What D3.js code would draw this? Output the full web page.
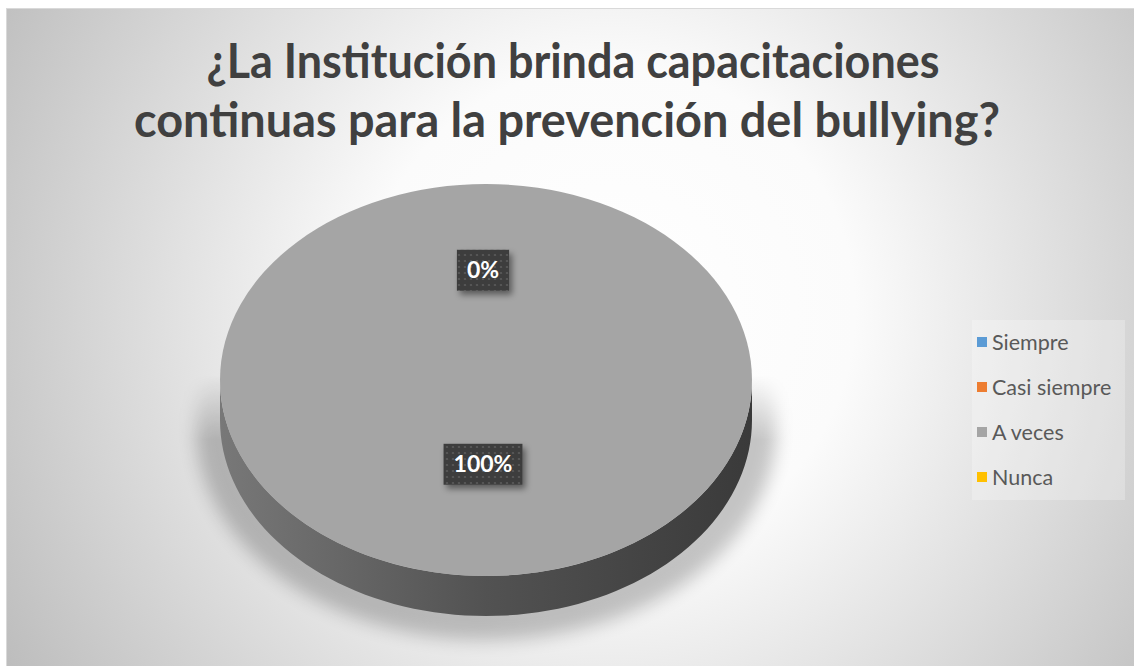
<!DOCTYPE html>
<html><head><meta charset="utf-8">
<script src="https://cdn.jsdelivr.net/npm/d3@7"></script>
<style>html,body{margin:0;padding:0;background:#fff;}svg{display:block;}</style>
</head><body>
<script>
const titleLines = ["¿La Institución brinda capacitaciones", "continuas para la prevención del bullying?"];
const categories = ["Siempre", "Casi siempre", "A veces", "Nunca"];
const values = [0, 0, 100, 0];
const colors = ["#5b9bd5", "#ed7d31", "#a5a5a5", "#ffc000"];

const W = 1134, H = 666;
const svg = d3.select("body").append("svg").attr("width", W).attr("height", H);
const defs = svg.append("defs");

// background gradient
const bg = defs.append("radialGradient").attr("id", "bg").attr("gradientUnits", "userSpaceOnUse")
  .attr("cx", 610).attr("cy", 310).attr("r", 700);
bg.append("stop").attr("offset", "0").attr("stop-color", "#ffffff");
bg.append("stop").attr("offset", "0.35").attr("stop-color", "#fbfbfb");
bg.append("stop").attr("offset", "1").attr("stop-color", "#bdbdbd");

const side = defs.append("linearGradient").attr("id", "side").attr("x1", 0).attr("x2", 1).attr("y1", 0).attr("y2", 0);
side.append("stop").attr("offset", "0").attr("stop-color", "#787878");
side.append("stop").attr("offset", "0.5").attr("stop-color", "#525252");
side.append("stop").attr("offset", "1").attr("stop-color", "#3a3a3a");

const pat = defs.append("pattern").attr("id", "dots").attr("patternUnits", "userSpaceOnUse").attr("width", 6).attr("height", 6);
pat.append("rect").attr("width", 6).attr("height", 6).attr("fill", "#3e3e3e");
pat.append("circle").attr("cx", 3).attr("cy", 3).attr("r", 1.1).attr("fill", "#5a5a5a");

const sh = defs.append("filter").attr("id", "lblsh").attr("x", "-30%").attr("y", "-30%").attr("width", "160%").attr("height", "160%");
sh.append("feDropShadow").attr("dx", 3).attr("dy", 4).attr("stdDeviation", 3).attr("flood-color", "#000").attr("flood-opacity", 0.45);

const blur = defs.append("filter").attr("id", "pieblur").attr("x", "-20%").attr("y", "-20%").attr("width", "140%").attr("height", "140%");
blur.append("feGaussianBlur").attr("stdDeviation", 9);

const mg = defs.append("linearGradient").attr("id", "shfade").attr("gradientUnits", "userSpaceOnUse")
  .attr("x1", 0).attr("x2", 0).attr("y1", 375).attr("y2", 440);
mg.append("stop").attr("offset", "0").attr("stop-color", "#fff").attr("stop-opacity", 0);
mg.append("stop").attr("offset", "1").attr("stop-color", "#fff").attr("stop-opacity", 1);
defs.append("mask").attr("id", "shmask").attr("maskUnits", "userSpaceOnUse")
  .attr("x", 0).attr("y", 0).attr("width", W).attr("height", H)
  .append("rect").attr("x", 0).attr("y", 0).attr("width", W).attr("height", H).attr("fill", "url(#shfade)");

svg.append("rect").attr("x", 6.5).attr("y", 8.5).attr("width", W - 6).attr("height", H - 8)
  .attr("fill", "url(#bg)").attr("stroke", "#d9d9d9").attr("stroke-width", 1);

// title
const title = svg.append("g").attr("font-family", "Lato, 'Open Sans', sans-serif").attr("font-weight", "bold")
  .attr("font-size", 47).attr("fill", "#404040").attr("text-anchor", "middle");
const tl = [[573, 78, 733], [567, 137, 866]];
titleLines.forEach((t, i) => {
  title.append("text").attr("x", tl[i][0]).attr("y", tl[i][1]).attr("textLength", tl[i][2])
    .attr("lengthAdjust", "spacingAndGlyphs").text(t);
});

// pie
const cx = 486, cy = 380, rx = 266, ry = 196, depth = 40;
const pie = d3.pie().sort(null).value(d => d.value);
const data = categories.map((c, i) => ({ name: c, value: values[i], color: colors[i] }));
const arcs = pie(data);
const total = d3.sum(values);
const fmt = d3.format(".0%");

// shadow
svg.append("g").attr("mask", "url(#shmask)").append("ellipse")
  .attr("cx", cx).attr("cy", cy + 48).attr("rx", rx + 24).attr("ry", ry + 16)
  .attr("fill", "#000").attr("opacity", 0.22).attr("filter", "url(#pieblur)");

const pt = (a, dz) => [cx + rx * Math.sin(a), cy - ry * Math.cos(a) + dz];
const sideG = svg.append("g");
arcs.forEach(d => {
  const s0 = Math.max(d.startAngle, Math.PI / 2), s1 = Math.min(d.endAngle, 3 * Math.PI / 2);
  if (s1 <= s0) return;
  const n = 80;
  const angs = d3.range(n + 1).map(i => s0 + (s1 - s0) * i / n);
  const top = angs.map(a => pt(a, 0));
  const bot = angs.slice().reverse().map(a => pt(a, depth));
  sideG.append("path").attr("d", d3.line()(top.concat(bot)) + "Z")
    .attr("fill", d.data.name === "A veces" ? "url(#side)" : d3.color(d.data.color).darker(1.2));
});

const arcGen = d3.arc().innerRadius(0).outerRadius(rx);
svg.append("g").attr("transform", `translate(${cx},${cy}) scale(1,${ry / rx})`)
  .selectAll("path").data(arcs).join("path")
  .attr("d", arcGen).attr("fill", d => d.data.color);

// labels
const seen = new Set();
const lblG = svg.append("g").attr("font-family", "Lato, 'Open Sans', sans-serif").attr("font-weight", "bold").attr("font-size", 23);
arcs.forEach(d => {
  const mid = (d.startAngle + d.endAngle) / 2;
  const k = d.value === 0 ? 0.56 : 0.43;
  const lx = cx - 3 + rx * k * Math.sin(mid), ly = cy - ry * k * Math.cos(mid);
  const txt = fmt(d.value / total);
  const key = Math.round(lx) + "," + Math.round(ly) + txt;
  if (seen.has(key)) return;
  seen.add(key);
  const g = lblG.append("g");
  const t = g.append("text").attr("x", lx).attr("y", ly).attr("dy", "0.35em").attr("text-anchor", "middle")
    .attr("fill", "#fff").text(txt);
  const w = t.node().getComputedTextLength() + 20;
  g.insert("rect", "text").attr("x", lx - w / 2).attr("y", ly - 20.5).attr("width", w).attr("height", 41)
    .attr("fill", "url(#dots)").attr("filter", "url(#lblsh)");
});

// legend
const leg = svg.append("g");
leg.append("rect").attr("x", 972).attr("y", 320).attr("width", 153).attr("height", 180)
  .attr("fill", "#fff").attr("opacity", 0.25);
const ly0 = 342, lstep = 45;
categories.forEach((c, i) => {
  const y = ly0 + i * lstep;
  leg.append("rect").attr("x", 977).attr("y", y - 5).attr("width", 10).attr("height", 10).attr("fill", colors[i]);
  leg.append("text").attr("x", 992).attr("y", y).attr("dy", "0.35em")
    .attr("font-family", "Lato, 'Open Sans', sans-serif").attr("font-size", 21.5).attr("fill", "#595959").text(c);
});
</script>
</body></html>
